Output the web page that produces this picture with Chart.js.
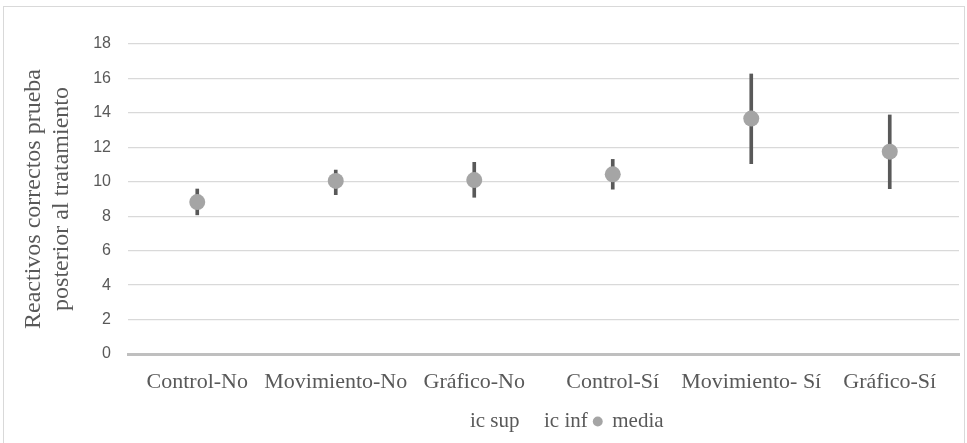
<!DOCTYPE html>
<html>
<head>
<meta charset="utf-8">
<script src="https://cdn.jsdelivr.net/npm/chart.js@4/dist/chart.umd.min.js"></script>
<style>
  html, body { margin: 0; padding: 0; background: #ffffff; }
  #wrap { position: relative; width: 967px; height: 443px; overflow: hidden; }
  #wrap canvas { position: absolute; left: 0; top: 0; }
  #frame { position: absolute; left: 3px; top: 6px; width: 962px; height: 445px;
           border: 1px solid #d9d9d9; box-sizing: border-box; pointer-events: none; }
</style>
</head>
<body>
<div id="wrap">
  <canvas id="chart" width="967" height="443"></canvas>
  <div id="frame"></div>
</div>
<script>
// Grupos (tratamiento - condición)
const categories = ['Control-No', 'Movimiento-No', 'Gráfico-No', 'Control-Sí', 'Movimiento- Sí', 'Gráfico-Sí'];
// Intervalo de confianza: límite superior e inferior
const icSup = [9.58, 10.68, 11.13, 11.30, 16.26, 13.88];
const icInf = [8.08, 9.25, 9.10, 9.57, 11.05, 9.60];
// Media de reactivos correctos
const media = [8.82, 10.05, 10.10, 10.43, 13.67, 11.75];
// Eje Y
const yMin = 0, yMax = 18, yStep = 2;
const yTitle = ['Reactivos correctos prueba', 'posterior al tratamiento'];

const TEXT = '#595959';
const SERIF = "'Liberation Serif', 'Times New Roman', serif";
const SANS = "'Liberation Sans', Arial, sans-serif";

// Líneas máximo-mínimo entre ic inf e ic sup
const hiLo = categories.map((_, i) => [icInf[i], icSup[i]]);

// Desplaza la leyenda para que quede bajo el centro del área de trazado
const legendShift = {
  id: 'legendShift',
  afterLayout(chart) {
    const lg = chart.legend;
    if (lg) { lg.left += 14; lg.right += 14; }
  }
};

new Chart(document.getElementById('chart'), {
  data: {
    labels: categories,
    datasets: [
      {
        type: 'line', label: 'ic sup', data: icSup, order: 0,
        showLine: false, pointRadius: 0, pointHoverRadius: 0,
        borderColor: 'rgba(0,0,0,0)', backgroundColor: 'rgba(0,0,0,0)'
      },
      {
        type: 'line', label: 'ic inf', data: icInf, order: 0,
        showLine: false, pointRadius: 0, pointHoverRadius: 0,
        borderColor: 'rgba(0,0,0,0)', backgroundColor: 'rgba(0,0,0,0)'
      },
      {
        type: 'line', label: 'media', data: media, order: 0,
        showLine: false, pointRadius: 8, pointHoverRadius: 8, pointBorderWidth: 0,
        pointStyle: 'circle',
        borderColor: '#a5a5a5', backgroundColor: '#a5a5a5'
      },
      {
        type: 'bar', label: 'hilo', data: hiLo, order: 1,
        backgroundColor: '#595959', borderWidth: 0, barThickness: 3
      }
    ]
  },
  plugins: [legendShift],
  options: {
    responsive: false,
    animation: false,
    events: [],
    layout: { padding: { top: 44, right: 4, left: 0, bottom: 1 } },
    plugins: {
      tooltip: { enabled: false },
      legend: {
        position: 'bottom',
        fullSize: false,
        labels: {
          usePointStyle: true,
          boxWidth: 8,
          boxHeight: 7,
          padding: 6,
          color: TEXT,
          font: { family: SERIF, size: 21 },
          filter: (item) => item.text !== 'hilo'
        }
      }
    },
    scales: {
      x: {
        offset: true,
        grid: { display: false },
        border: { display: true, color: '#bfbfbf', width: 3 },
        ticks: { color: TEXT, font: { family: SERIF, size: 22 }, padding: 7, maxRotation: 0, autoSkip: false },
        afterFit: (scale) => { scale.height = 51; }
      },
      y: {
        min: yMin, max: yMax,
        grid: { color: '#d9d9d9', lineWidth: 1.3, drawTicks: false },
        border: { display: false },
        ticks: { stepSize: yStep, color: TEXT, font: { family: SANS, size: 16 }, padding: 17 },
        title: {
          display: true, text: yTitle, color: TEXT,
          font: { family: SERIF, size: 24, lineHeight: 1.2 },
          padding: { top: 19, bottom: 0 }
        },
        afterFit: (scale) => { scale.width = 128; }
      }
    }
  }
});
</script>
</body>
</html>
